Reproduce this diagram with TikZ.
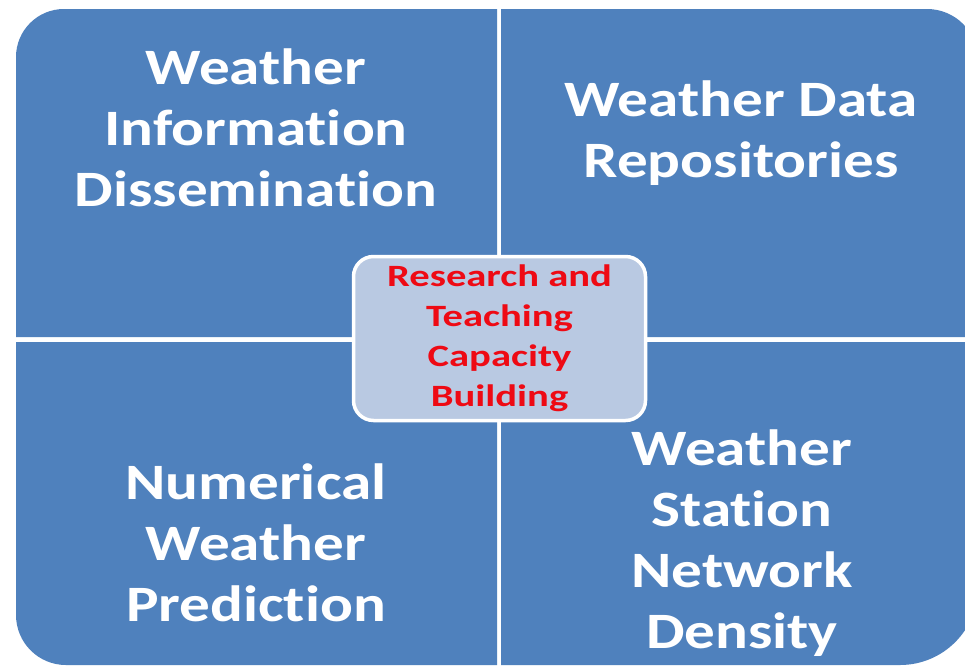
\documentclass[tikz,border=0pt]{standalone}
\usepackage{fontspec}
\setmainfont{Carlito}[Ligatures=NoCommon]
\newfontfamily\quadfont{Carlito}[Ligatures=NoCommon, FakeStretch=1.2]
\newfontfamily\corefont{Carlito}[Ligatures=NoCommon, FakeStretch=1.31]
\definecolor{quadblue}{RGB}{79,129,189}
\definecolor{corefill}{RGB}{185,201,226}
\definecolor{corered}{RGB}{238,10,20}
\begin{document}
\begin{tikzpicture}[x=1pt,y=-1pt,
  quad/.style={fill=quadblue},
  quadtext/.style={text=white, font=\quadfont\bfseries\fontsize{51}{61}\selectfont, align=center, inner sep=0pt},
  core/.style={draw=white, line width=3.5pt, fill=corefill, rounded corners=20pt,
    minimum width=292pt, minimum height=164pt, inner sep=0pt},
  coretext/.style={text=corered, font=\corefont\bfseries\fontsize{31}{40}\selectfont, align=center, inner sep=0pt}]
  \useasboundingbox[fill=white] (0,0) rectangle (965,667);

  % four quadrants, each with its outer corner rounded
  \fill[quad] (497,337) -- (16,337) [rounded corners=48pt] -- (16,9) [sharp corners] -- (497,9) -- cycle;
  \fill[quad] (501,337) -- (501,9) [rounded corners=51pt] -- (978,9) [sharp corners] -- (978,337) -- cycle;
  \fill[quad] (497,342) -- (16,342) [rounded corners=50pt] -- (16,665) [sharp corners] -- (497,665) -- cycle;
  \fill[quad] (501,342) -- (978,342) [rounded corners=78pt] -- (978,665) [sharp corners] -- (501,665) -- cycle;

  % quadrant labels
  \node[quadtext] (tl) at (256,128) {Weather\\Information\\Dissemination};
  \node[quadtext] (tr) at (741,133) {Weather Data\\Repositories};
  \node[quadtext] (bl) at (256,543) {Numerical\\Weather\\Prediction};
  \node[quadtext] (br) at (742,543) {Weather\\Station\\Network\\Density};

  % central box
  \node[core] (core) at (499.5,338.5) {};
  \node[coretext] (coretxt) at (499.5,338) {Research and\\Teaching\\Capacity\\Building};
\end{tikzpicture}
\end{document}
